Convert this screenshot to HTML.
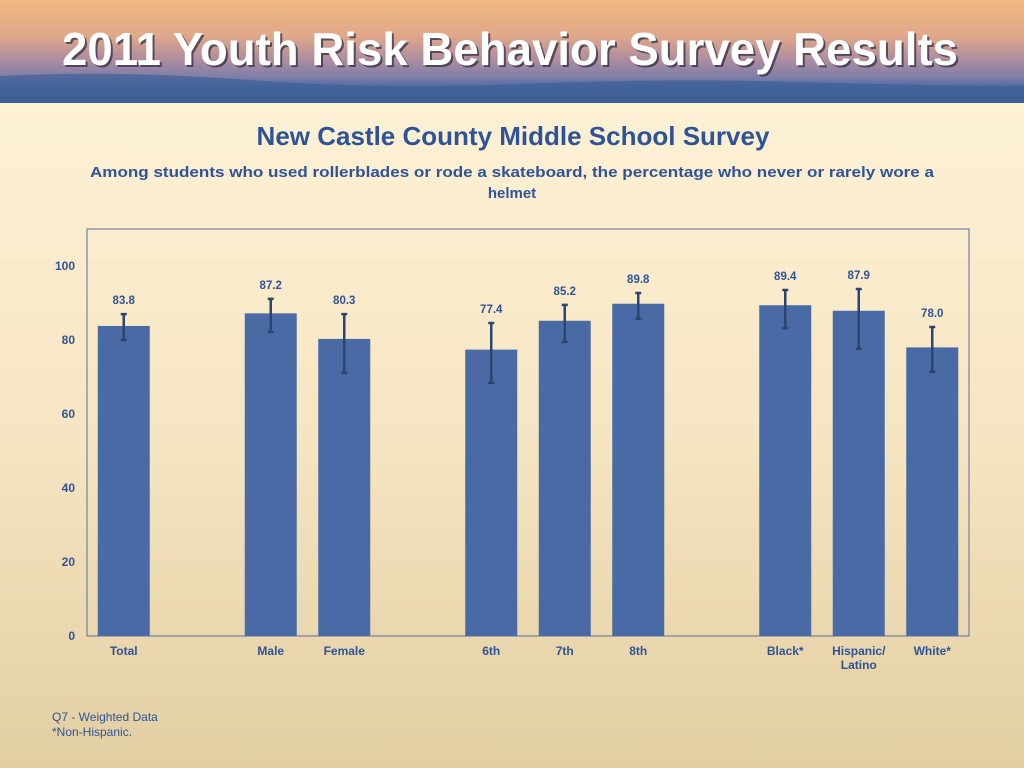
<!DOCTYPE html>
<html><head><meta charset="utf-8"><style>
html,body{margin:0;padding:0;width:1024px;height:768px;overflow:hidden}
body{background:linear-gradient(#fdf1d6 0%,#f7e6c3 50%,#e6d2a6 100%);font-family:"Liberation Sans",sans-serif}
</style></head><body>
<svg width="1024" height="768" xmlns="http://www.w3.org/2000/svg">
<defs>
<linearGradient id="hdr" x1="0" y1="0" x2="0" y2="1">
<stop offset="0" stop-color="#f0b880"/><stop offset="0.35" stop-color="#e0a88a"/>
<stop offset="0.6" stop-color="#a88aa0"/><stop offset="0.75" stop-color="#7d7fa8"/>
<stop offset="0.85" stop-color="#4c6aa0"/><stop offset="1" stop-color="#3f5f97"/>
</linearGradient>
<linearGradient id="bg" x1="0" y1="0" x2="0" y2="1">
<stop offset="0" stop-color="#fdf1d6"/><stop offset="0.5" stop-color="#f6e5c2"/><stop offset="1" stop-color="#e2cea2"/>
</linearGradient>
</defs>
<rect x="0" y="103" width="1024" height="665" fill="url(#bg)"/>
<g>
<rect x="0" y="0" width="1024" height="103" fill="url(#hdr)"/>
<path d="M0 76 Q120 70 250 80 T520 84 T800 82 T1024 86 L1024 103 L0 103Z" fill="#3f5f97" opacity="0.7"/>
<text x="64" y="67" textLength="896" lengthAdjust="spacingAndGlyphs" font-family="Liberation Sans Narrow, Liberation Sans, sans-serif" font-weight="bold" font-size="46" fill="#2a2a40" opacity="0.7">2011 Youth Risk Behavior Survey Results</text>
<text x="62" y="65" textLength="896" lengthAdjust="spacingAndGlyphs" font-family="Liberation Sans Narrow, Liberation Sans, sans-serif" font-weight="bold" font-size="46" fill="#ffffff">2011 Youth Risk Behavior Survey Results</text>
</g>
<text x="513" y="145" text-anchor="middle" font-size="26" font-weight="bold" fill="#2f5496">New Castle County Middle School Survey</text>
<text x="512" y="177" text-anchor="middle" font-size="15" font-weight="bold" fill="#2f5496" textLength="844" lengthAdjust="spacingAndGlyphs">Among students who used rollerblades or rode a skateboard, the percentage who never or rarely wore a</text>
<text x="512" y="198" text-anchor="middle" font-size="15" font-weight="bold" fill="#2f5496">helmet</text>
<rect x="87" y="229" width="882" height="407" fill="none" stroke="#5a6f9a" stroke-width="1"/>
<g id="chart"></g>
<text x="52" y="721" font-size="12" fill="#2f5496">Q7 - Weighted Data</text>
<text x="52" y="736" font-size="12" fill="#2f5496">*Non-Hispanic.</text>
</svg>
<script>
const categories=["Total","","Male","Female","","6th","7th","8th","","Black*","Hispanic/\nLatino","White*"];
const values=[83.8,null,87.2,80.3,null,77.4,85.2,89.8,null,89.4,87.9,78.0];
const lower=[80.0,null,82.2,71.1,null,68.4,79.5,85.7,null,83.2,77.6,71.4];
const upper=[87.0,null,91.1,87.0,null,84.6,89.5,92.7,null,93.5,93.8,83.5];
const yTicks=[0,20,40,60,80,100];
const NS="http://www.w3.org/2000/svg";
const g=document.getElementById('chart');
const x0=87,x1=969,y0=636,yMax=110,yTop=229;
const slot=(x1-x0)/categories.length;
const xc=i=>x0+slot*(i+0.5);
const y=v=>y0-(v/yMax)*(y0-yTop);
function el(t,a){const e=document.createElementNS(NS,t);for(const k in a)e.setAttribute(k,a[k]);g.appendChild(e);return e;}
yTicks.forEach(t=>{
 const tx=el('text',{x:75,y:y(t)+4,'text-anchor':'end','font-size':12,'font-weight':'bold',fill:'#2f5496'});
 tx.textContent=t;
 
 
});
const bw=52;
categories.forEach((c,i)=>{
 if(values[i]!==null){
  const r=el('rect',{x:xc(i)-bw/2,y:y(values[i]),width:bw,height:y0-y(values[i]),fill:'#4a6aa5'});
  
  
  const ex=xc(i);
  const eb=el('path',{d:`M${ex} ${y(upper[i])}V${y(lower[i])}M${ex-3} ${y(upper[i])}H${ex+3}M${ex-3} ${y(lower[i])}H${ex+3}`,stroke:'#2b4570','stroke-width':2.5,fill:'none'});
  
  
  const lbl=el('text',{x:ex,y:y(upper[i])-10,'text-anchor':'middle','font-size':11.5,'font-weight':'bold',fill:'#2f5496'});
  lbl.textContent=values[i].toFixed(1);
  
  
 }
 if(c){
  c.split('\n').forEach((ln,j)=>{
   const t=el('text',{x:xc(i),y:655+j*14,'text-anchor':'middle','font-size':12,'font-weight':'bold',fill:'#2f5496'});
   t.textContent=ln;
   
   
  });
 }
});
</script>
</body></html>
